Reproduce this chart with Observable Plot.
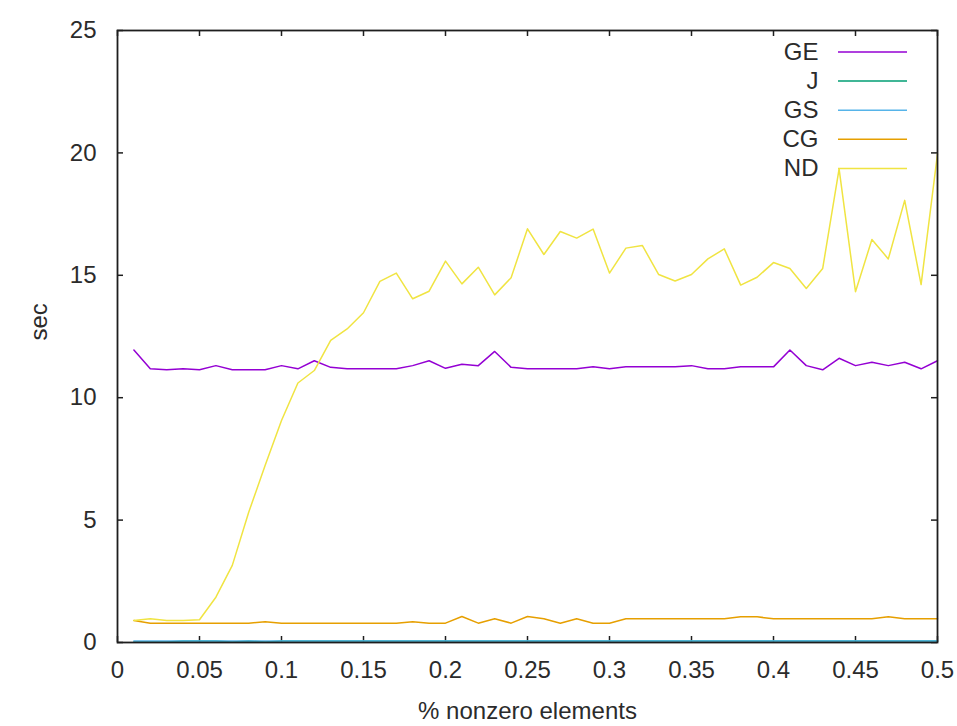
<!DOCTYPE html>
<html>
<head>
<meta charset="utf-8">
<script src="https://cdn.jsdelivr.net/npm/d3@7"></script>
<script src="https://cdn.jsdelivr.net/npm/@observablehq/plot@0.6"></script>
<style>
  html, body { margin: 0; padding: 0; background: #fff; }
  #chart { width: 957px; height: 726px; }
</style>
</head>
<body>
<div id="chart"></div>
<script>
const xs = [0.01,0.02,0.03,0.04,0.05,0.06,0.07,0.08,0.09,0.10,
            0.11,0.12,0.13,0.14,0.15,0.16,0.17,0.18,0.19,0.20,
            0.21,0.22,0.23,0.24,0.25,0.26,0.27,0.28,0.29,0.30,
            0.31,0.32,0.33,0.34,0.35,0.36,0.37,0.38,0.39,0.40,
            0.41,0.42,0.43,0.44,0.45,0.46,0.47,0.48,0.49,0.50];

const GE = [11.95,11.18,11.14,11.18,11.14,11.31,11.14,11.14,11.14,11.31,
            11.18,11.51,11.24,11.18,11.18,11.18,11.18,11.31,11.51,11.20,
            11.37,11.31,11.89,11.24,11.18,11.18,11.18,11.18,11.26,11.18,
            11.26,11.26,11.26,11.26,11.31,11.18,11.18,11.26,11.26,11.26,
            11.95,11.31,11.14,11.61,11.31,11.45,11.31,11.45,11.18,11.51];

const J  = [0.02,0.02,0.02,0.06,0.06,0.06,0.02,0.06,0.02,0.06,
            0.06,0.06,0.06,0.06,0.06,0.06,0.06,0.06,0.06,0.06,
            0.06,0.06,0.06,0.06,0.06,0.06,0.06,0.06,0.06,0.06,
            0.06,0.06,0.06,0.06,0.06,0.06,0.06,0.06,0.06,0.06,
            0.06,0.06,0.06,0.06,0.06,0.06,0.06,0.06,0.06,0.06];

const GS = [0.06,0.06,0.06,0.06,0.06,0.06,0.06,0.06,0.06,0.06,
            0.06,0.06,0.06,0.06,0.06,0.06,0.06,0.06,0.06,0.06,
            0.06,0.06,0.06,0.06,0.06,0.06,0.06,0.06,0.06,0.06,
            0.06,0.06,0.06,0.06,0.06,0.06,0.06,0.06,0.06,0.06,
            0.06,0.06,0.06,0.06,0.06,0.06,0.06,0.06,0.06,0.06];

const CG = [0.90,0.79,0.79,0.79,0.79,0.79,0.79,0.79,0.85,0.79,
            0.79,0.79,0.79,0.79,0.79,0.79,0.79,0.85,0.79,0.79,
            1.06,0.79,0.97,0.79,1.06,0.97,0.79,0.97,0.79,0.79,
            0.97,0.97,0.97,0.97,0.97,0.97,0.97,1.05,1.05,0.97,
            0.97,0.97,0.97,0.97,0.97,0.97,1.05,0.97,0.97,0.97];

const ND = [0.90,0.97,0.90,0.90,0.93,1.85,3.15,5.32,7.23,9.07,
            10.60,11.11,12.34,12.81,13.47,14.75,15.09,14.04,14.35,15.58,
            14.65,15.33,14.20,14.90,16.90,15.85,16.79,16.52,16.89,15.09,
            16.11,16.22,15.03,14.77,15.03,15.67,16.08,14.60,14.92,15.52,
            15.28,14.46,15.28,19.35,14.33,16.46,15.67,18.06,14.62,19.96];

const seriesNames  = ["GE", "J", "GS", "CG", "ND"];
const seriesValues = [GE, J, GS, CG, ND];
const seriesColors = ["#9400d3", "#009e73", "#56b4e9", "#e69f00", "#f0e442"];

const xTickValues = [0,0.05,0.1,0.15,0.2,0.25,0.3,0.35,0.4,0.45,0.5];
const xTickLabels = ["0","0.05","0.1","0.15","0.2","0.25","0.3","0.35","0.4","0.45","0.5"];
const yTickValues = [0,5,10,15,20,25];
const yTickLabels = ["0","5","10","15","20","25"];
const xLabel = "% nonzero elements";
const yLabel = "sec";

const W = 957, H = 726;
const mL = 117, mR = 20, mT = 30, mB = 84;
const innerW = W - mL - mR, innerH = H - mT - mB;
const textColor = "#2b2b2b";
const frameColor = "#1e1e1e";
const FS = 24;

const lineMarks = seriesValues.map((vals, k) =>
  Plot.line(vals, {x: (d, i) => xs[i], y: d => d, stroke: seriesColors[k], strokeWidth: 1.5})
);

const chart = Plot.plot({
  width: W, height: H,
  marginLeft: mL, marginRight: mR, marginTop: mT, marginBottom: mB,
  style: {fontFamily: "'Liberation Sans', Arial, sans-serif", fontSize: FS + "px", color: textColor, background: "#fff"},
  x: {domain: [0, 0.5], ticks: xTickValues, tickSize: 0, tickPadding: 18,
      tickFormat: d => xTickLabels[xTickValues.findIndex(v => Math.abs(v - d) < 1e-9)], label: null},
  y: {domain: [0, 25], ticks: yTickValues, tickSize: 0, tickPadding: 21,
      tickFormat: d => yTickLabels[yTickValues.indexOf(d)], label: null},
  marks: [
    // inward ticks on all four sides
    Plot.tickX(xTickValues, {x: d => d, insetTop: innerH - 6, stroke: frameColor, strokeWidth: 1.5}),
    Plot.tickX(xTickValues, {x: d => d, insetBottom: innerH - 6, stroke: frameColor, strokeWidth: 1.5}),
    Plot.tickY(yTickValues, {y: d => d, insetRight: innerW - 6, stroke: frameColor, strokeWidth: 1.5}),
    Plot.tickY(yTickValues, {y: d => d, insetLeft: innerW - 6, stroke: frameColor, strokeWidth: 1.5}),
    ...lineMarks,
    Plot.frame({stroke: frameColor, strokeWidth: 1.8}),
    Plot.text([xLabel], {frameAnchor: "bottom", lineAnchor: "middle", dy: 69, text: d => d, fill: textColor, fontSize: FS}),
    Plot.text([yLabel], {frameAnchor: "left", lineAnchor: "middle", dx: -78, dy: 4, text: d => d, rotate: -90, fill: textColor, fontSize: FS}),
    ...seriesNames.map((name, i) =>
      Plot.text([name], {frameAnchor: "top-right", lineAnchor: "middle", dx: -119, dy: 21.5 + i * 29.1, text: d => d,
                         textAnchor: "end", fill: textColor, fontSize: FS}))
  ]
});

document.getElementById("chart").appendChild(chart);

// legend sample lines (drawn in pixel space next to legend text)
const svg = d3.select(chart);
seriesNames.forEach((name, i) => {
  const y = mT + 22 + i * 29.1;
  svg.append("line")
    .attr("x1", 838).attr("x2", 907)
    .attr("y1", y).attr("y2", y)
    .attr("stroke", seriesColors[i])
    .attr("stroke-width", 1.5);
});
</script>
</body>
</html>
